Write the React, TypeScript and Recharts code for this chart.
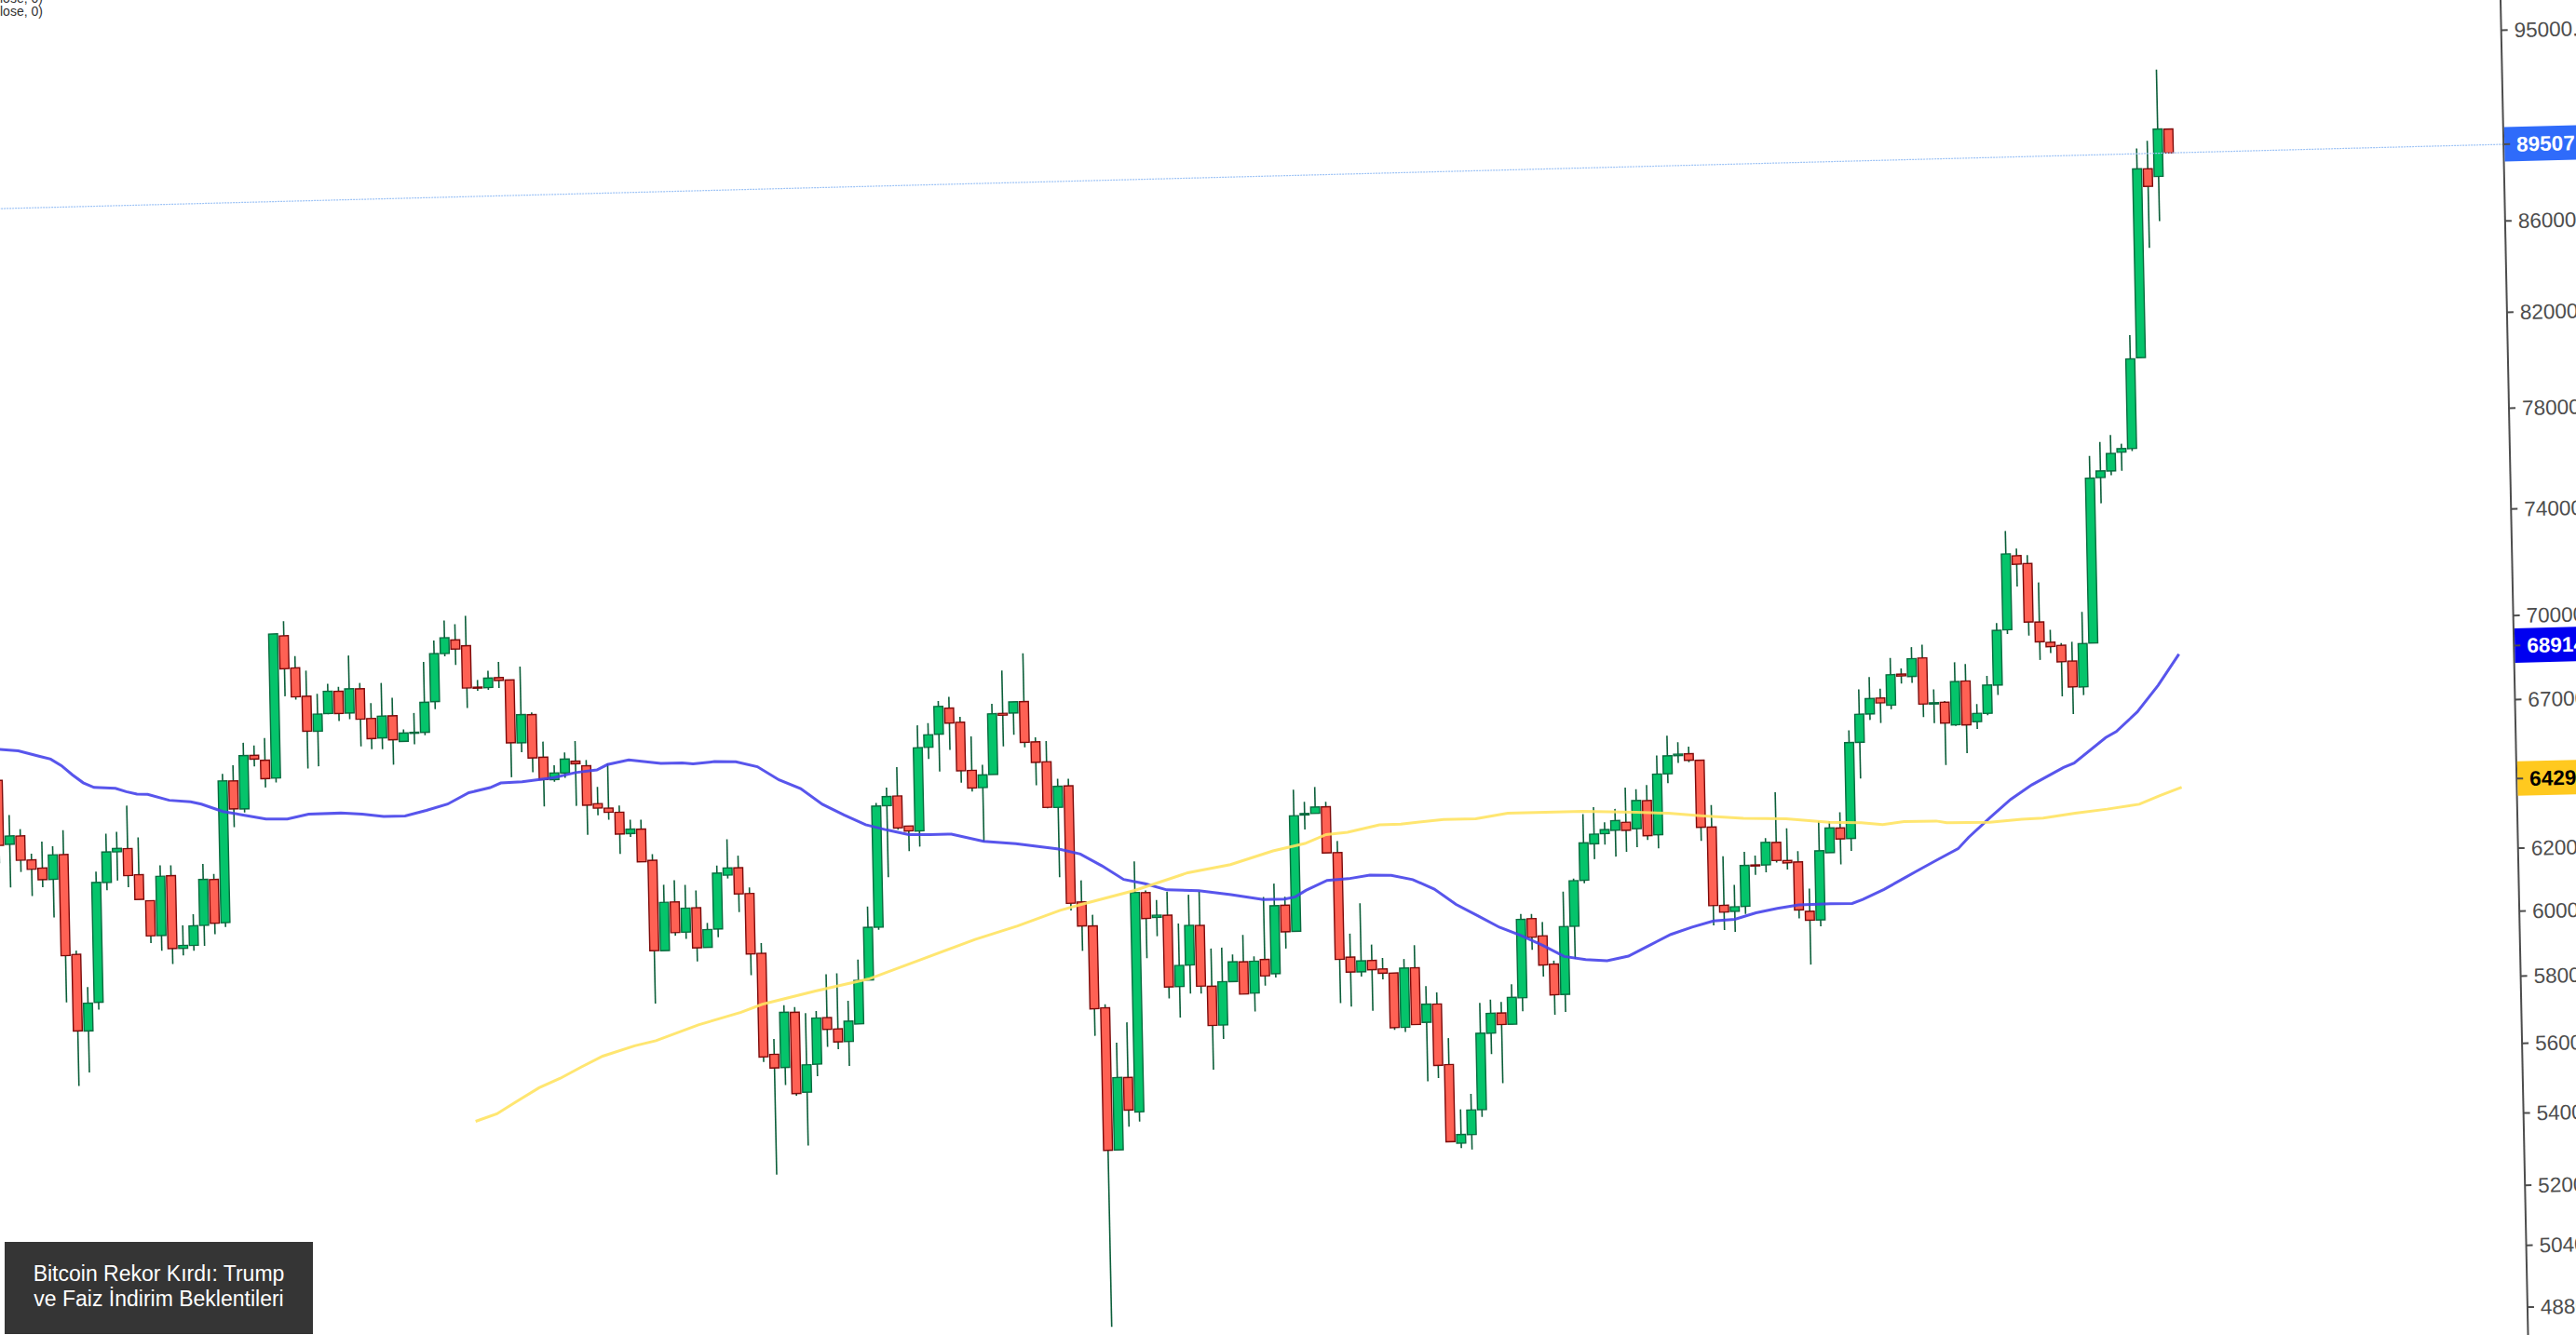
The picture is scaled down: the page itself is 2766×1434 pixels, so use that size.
import { ComposedChart, Bar, Line, XAxis, YAxis, ReferenceLine } from "recharts";

const opens = [
  66435,64250,64520,63710,63430,63050,63860,60610,58230,59100,
  62900,63905,64005,63130,62270,61140,63070,60715,60800,61430,
  62910,61500,66210,65240,67080,66900,66270,71365,70170,69130,
  67870,68490,69280,68490,69350,68275,67575,68350,67435,67720,
  67735,68820,70555,71050,70825,69300,69275,69625,69530,67280,
  68265,66755,65970,66190,66590,66420,65110,64950,64800,64075,
  64215,63170,60255,61795,60820,61590,60320,60895,62620,62850,
  62005,60090,57000,56600,58245,55860,56675,58060,57710,57325,
  57845,59175,60820,64790,65110,64090,63915,66755,67205,68115,
  67605,65920,65320,65760,67880,67885,68280,66850,66150,64585,
  65305,61460,60685,58140,53980,56050,55045,61705,60905,60965,
  58730,59385,60615,58715,57530,58840,59440,58470,59495,59050,
  61185,60350,64120,64160,64375,62845,59500,59040,59380,59110,
  58975,57320,59120,57455,57995,56185,53920,54155,54855,57080,
  57675,57330,58120,60560,60010,59125,58190,60285,61740,62915,
  63240,63345,63600,63380,64305,63160,65190,65805,65860,65625,
  63370,60825,60625,60775,62090,62085,62810,62210,62155,60565,
  60285,62430,63230,62875,66100,67075,67625,67365,68455,68360,
  69015,67365,67420,66620,68150,66710,66990,67975,69955,72700,
  72395,70210,69460,69340,68765,67835,69395,75640,75890,76625,
  76760,80475,88795,88430,90630,
];

const highs = [
  66435,65240,64750,63920,64310,64150,64680,60730,59580,63270,
  64520,64575,65455,64370,62270,63420,63410,61450,61800,63430,
  63090,66460,66750,67530,67425,67680,71445,71910,70600,70060,
  69210,69560,69440,70575,69560,68825,69540,69000,67860,68430,
  70270,71050,71780,71630,71940,69560,69885,70195,69530,70010,
  68340,67300,66465,66905,67295,66620,65680,66485,65030,64540,
  64530,63370,62360,62500,62340,62145,61095,62940,63800,63250,
  62200,60415,57460,58470,58405,58210,58270,59385,59405,58555,
  59815,61485,64890,65405,66100,64090,67535,67605,68375,68520,
  67795,67095,66100,68230,69415,68280,70020,67005,66870,65560,
  65550,62155,61040,58245,57085,57685,62730,61775,61460,61715,
  60690,61600,61695,59880,59900,59680,60280,59605,61465,61890,
  61455,64980,64560,65050,64540,63225,60235,61185,59875,59450,
  58975,59400,59825,58550,58350,56965,54880,55315,57995,58090,
  58010,58540,60715,60705,60445,59230,61395,61805,63910,64130,
  63615,64055,64760,64695,64830,65825,66500,66265,66105,65625,
  64100,62400,61470,62525,62400,62960,64475,63265,62505,61285,
  63475,63465,63750,66525,67950,68380,67955,69045,68660,69415,
  69490,67885,67460,68830,68755,67330,68315,70210,73655,72975,
  72715,71675,69915,69425,69460,70540,76510,77055,77330,76965,
  81440,89750,90100,93495,90630,
];

const lows = [
  63630,62820,63320,62520,62800,61810,59120,56590,56980,58870,
  62650,62955,62730,62320,60910,60660,60230,60490,60630,60780,
  61140,61360,64630,65120,66695,65955,66120,69150,69020,66570,
  66640,68460,68210,68270,67300,67190,67180,66630,67420,67320,
  67630,68550,70455,70125,68560,69170,69190,69250,66090,66950,
  66245,65060,65895,66020,65055,64070,64720,64560,63410,63960,
  63130,58620,60255,60715,60605,59890,60320,60635,62510,61415,
  59420,56780,53530,56085,55765,54325,56320,57180,57105,56595,
  57845,59175,60735,62420,63975,63255,63395,66350,65905,66645,
  65505,65195,63500,65760,66720,67120,66670,65350,64560,62275,
  61195,59910,57305,49225,53980,54630,54765,59630,60310,58375,
  57785,58505,58500,56215,57115,58825,58450,57910,58690,58930,
  59820,60350,63635,64160,62845,58100,57985,58890,57840,58790,
  57255,57180,57395,55710,55800,53970,53780,53735,54650,56460,
  55600,57330,57710,59580,58750,57580,57660,59265,61645,62415,
  62880,62480,62625,62770,63000,62715,64870,65555,65570,62920,
  60200,60045,59980,60535,61770,61845,62150,61920,60350,58905,
  60085,62430,62040,62470,64860,66865,66750,67220,68120,68135,
  66920,66700,65250,66580,65635,66460,66925,67625,69805,71540,
  69720,68835,69070,67520,66890,67545,69395,74630,75720,75880,
  76660,80475,85210,86390,89507,
];

const closes = [
  64220,64530,63710,63400,63050,63860,60580,58240,59080,62910,
  63910,64020,63110,62320,61140,63060,60720,60810,61425,62920,
  61490,66220,65250,67080,66950,66260,71445,70150,69120,67880,
  68480,69290,68480,69360,68260,67560,68350,67500,67730,67745,
  68805,70565,71140,70710,69280,69270,69620,69525,67290,68275,
  66740,65980,66200,66670,66500,65070,64960,64810,64070,64225,
  63130,60260,61790,60815,61585,60315,60885,62695,62855,62000,
  60080,56930,56595,58255,55830,56665,58055,57705,57320,57935,
  59170,60825,64785,65100,64035,63925,66750,67195,68185,67585,
  65915,65315,65755,67875,67815,68280,66840,66140,64595,65300,
  61425,60695,58120,53975,56055,55105,61715,60880,60975,58725,
  59380,60625,58725,57525,58845,59450,58450,59450,58990,61180,
  60345,64100,64165,64375,62845,59440,59040,59375,59095,58980,
  57320,59120,57395,58000,56170,53970,54165,54855,57085,57675,
  57330,58140,60545,59975,59105,58185,60285,61735,62955,63235,
  63375,63665,63335,64315,63140,65190,65805,65855,65635,63370,
  60825,60610,60770,62085,62065,62820,62220,62135,60620,60285,
  62500,63240,62870,66100,67075,67615,67455,68445,68390,69000,
  67375,67410,66690,68140,66610,67000,67985,69945,72780,72380,
  70220,69490,69305,68750,67845,69385,75625,75900,76585,76770,
  80435,88805,87985,90640,89507,
];

// moving averages were read every couple of candles: [candle number, price]
const blueMa = [
  [1,67526],[3,67451],[5,67233],[6,67131],[7,66894],[8,66565],[9,66279],[10,66109],[12,66060],[13,65933],
  [14,65842],[15,65820],[17,65601],[19,65530],[20,65442],[22,65171],[24,65025],[26,64879],[28,64861],[30,65006],
  [33,65015],[35,64960],[37,64867],[39,64861],[41,65031],[43,65227],[45,65597],[47,65751],[48,65900],[50,65923],
  [53,66041],[55,66194],[57,66266],[58,66442],[60,66582],[63,66435],[65,66432],[66,66389],[68,66449],[70,66428],
  [72,66236],[74,65764],[76,65448],[78,64895],[80,64516],[82,64169],[84,63973],[86,63806],[88,63787],[90,63781],
  [93,63517],[96,63412],[100,63198],[102,63015],[104,62609],[106,62149],[108,61992],[110,61776],[113,61723],[116,61566],
  [119,61383],[121,61383],[122,61445],[123,61646],[125,61948],[127,61986],[129,62083],[131,62057],[133,61903],[135,61578],
  [137,61072],[139,60695],[141,60316],[143,60039],[145,59717],[147,59351],[149,59235],[151,59187],[153,59311],[155,59632],
  [157,59951],[159,60163],[161,60337],[163,60376],[165,60562],[167,60683],[169,60778],[172,60786],[174,60780],[175,60899],
  [177,61200],[179,61563],[180,61744],[182,62101],[184,62450],[185,62813],[187,63434],[189,64032],[191,64500],[194,65060],
  [195,65200],[198,66047],[199,66243],[201,66908],[203,67822],[205,68914],
];

const yellowMa = [
  [45,55263],[47,55464],[49,55831],[51,56190],[53,56453],[55,56772],[57,57076],[60,57360],[62,57495],[66,57940],
  [70,58287],[72,58515],[77,58881],[82,59208],[87,59776],[92,60355],[96,60747],[100,61209],[102,61377],[107,61785],
  [112,62314],[116,62543],[120,62956],[123,63170],[125,63449],[127,63508],[130,63722],[132,63730],[136,63850],[139,63843],
  [142,64000],[149,64004],[154,63924],[157,63862],[160,63750],[164,63629],[168,63582],[172,63427],[175,63384],[177,63306],
  [179,63384],[182,63378],[183,63310],[187,63294],[190,63366],[192,63387],[195,63517],[198,63626],[201,63760],[203,64038],
  [205,64293],
];

const axisTicks = [95000, 86000, 82000, 78000, 74000, 70000, 67000, 62000, 60000, 58000, 56000, 54000, 52000, 50400, 48800];
const lastPrice = 89507;
const priceTags = [
  { value: lastPrice, label: "89507.00", bg: "#2f6bfa", fg: "#ffffff" },
  { value: 68914, label: "68914.00", bg: "#0000f0", fg: "#ffffff" },
  { value: 64293, label: "64293.00", bg: "#ffc91f", fg: "#000000" },
];

const blueAt = new Map(blueMa.map(([k, v]) => [k, v]));
const yellowAt = new Map(yellowMa.map(([k, v]) => [k, v]));

const rows = opens.map((open, i) => ({
  idx: i + 1,
  open,
  close: closes[i],
  high: highs[i],
  low: lows[i],
  range: [lows[i], highs[i]],
  blue: blueAt.get(i + 1) ?? null,
  yellow: yellowAt.get(i + 1) ?? null,
}));

function Candle(props: any) {
  const { x, y, width, height, payload } = props;
  const { open, close, high, low } = payload;
  // the bar spans low..high on the log axis, body is placed on the same scale
  const span = Math.log(high / low);
  const at = (v: number) => y + (height * Math.log(high / v)) / span;
  const up = close >= open;
  const top = at(Math.max(open, close));
  const bottom = at(Math.min(open, close));
  const cx = x + width / 2;
  return (
    <g>
      <line x1={cx} x2={cx} y1={y} y2={y + height} stroke="#0c5f3a" strokeWidth={1.6} />
      <rect
        x={cx - 4.8}
        y={top}
        width={9.6}
        height={Math.max(bottom - top, 1)}
        fill={up ? "#05c46b" : "#ff6154"}
        stroke={up ? "#0a6b3f" : "#7d0a0a"}
        strokeWidth={1.4}
      />
    </g>
  );
}

function PriceTick(props: any) {
  const { x, y, payload } = props;
  // recharts hands over x past its own tick gap, go back to the axis line
  const axisX = x - 8;
  const tag = priceTags.find((t) => t.value === payload.value);
  return (
    <g>
      {tag && <rect x={axisX + 1} y={y - 18.5} width={150} height={37} fill={tag.bg} />}
      <line x1={axisX} x2={axisX + 7} y1={y} y2={y} stroke="#4d4d4d" strokeWidth={2} />
      <text
        x={axisX + 14}
        y={y + 8}
        fontFamily="Liberation Sans"
        fontSize={22.5}
        fontWeight={tag ? 700 : 400}
        fill={tag ? tag.fg : "#4d4d4d"}
      >
        {tag ? tag.label : payload.value.toFixed(2)}
      </text>
    </g>
  );
}

export default function App() {
  return (
    <div
      style={{
        position: "fixed",
        left: 0,
        top: 0,
        width: 2766,
        height: 1434,
        overflow: "hidden",
        background: "#fff",
      }}
    >
      {/* the source screenshot is slightly skewed */}
      <div
        style={{
          position: "absolute",
          left: 0,
          top: 0,
          transformOrigin: "0 0",
          transform: "matrix(1, -0.0257, 0.0206, 1, -62.06, -29.06)",
        }}
      >
        <ComposedChart width={2900} height={1600} data={rows} margin={{ top: 0, right: 0, bottom: 0, left: 0 }}>
          <XAxis dataKey="idx" type="number" domain={[-2.61, 236.3]} allowDataOverflow hide />
          <YAxis
            orientation="right"
            scale="log"
            domain={[46570, 101290]}
            allowDataOverflow
            ticks={[...axisTicks, ...priceTags.map((t) => t.value)]}
            interval={0}
            width={155}
            axisLine={{ stroke: "#4d4d4d", strokeWidth: 2 }}
            tickLine={false}
            tick={<PriceTick />}
          />
          <ReferenceLine y={lastPrice} stroke="#9cc2f5" strokeWidth={1.2} strokeDasharray="2 1" />
          <Bar dataKey="range" barSize={10} shape={<Candle />} isAnimationActive={false} />
          <Line
            dataKey="blue"
            type="linear"
            connectNulls
            dot={false}
            stroke="#4643ea"
            strokeOpacity={0.9}
            strokeWidth={3}
            isAnimationActive={false}
          />
          <Line
            dataKey="yellow"
            type="linear"
            connectNulls
            dot={false}
            stroke="#ffe362"
            strokeOpacity={0.9}
            strokeWidth={3}
            isAnimationActive={false}
          />
        </ComposedChart>
      </div>
      <div
        style={{
          position: "absolute",
          left: 0,
          top: -9,
          fontFamily: "Liberation Sans",
          fontSize: 14,
          lineHeight: "14px",
          color: "#333",
        }}
      >
        <div>lose, 0)</div>
        <div>lose, 0)</div>
      </div>
      <div
        style={{
          position: "absolute",
          left: 5,
          top: 1334,
          width: 331,
          height: 99,
          background: "#353535",
          color: "#fff",
          fontFamily: "Liberation Sans",
          fontSize: 23,
          lineHeight: "27px",
          textAlign: "center",
          display: "flex",
          alignItems: "center",
          justifyContent: "center",
          paddingBottom: 3,
          boxSizing: "border-box",
        }}
      >
        <div>
          Bitcoin Rekor Kırdı: Trump
          <br />
          ve Faiz İndirim Beklentileri
        </div>
      </div>
    </div>
  );
}
